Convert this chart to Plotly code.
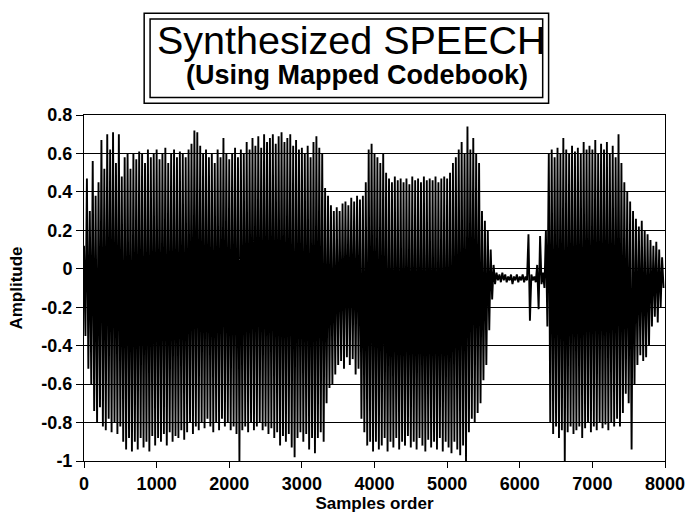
import numpy as np
import plotly.graph_objects as go

# Peak amplitudes, one value every 20 samples (alternating crest/trough)
amplitude = [
    0.12, -0.35, 0.47, -0.52, 0.30, -0.60, 0.56, -0.74, 0.38, -0.80,
    0.45, -0.72, 0.67, -0.82, 0.52, -0.84, 0.70, -0.78, 0.62, -0.85,
    0.71, -0.80, 0.55, -0.86, 0.70, -0.82, 0.48, -0.90, 0.58, -0.94,
    0.60, -0.88, 0.52, -0.95, 0.60, -0.90, 0.57, -0.94, 0.61, -0.88,
    0.60, -0.93, 0.55, -0.90, 0.62, -0.95, 0.58, -0.87, 0.60, -0.92,
    0.62, -0.88, 0.57, -0.90, 0.60, -0.86, 0.63, -0.92, 0.55, -0.85,
    0.60, -0.90, 0.62, -0.87, 0.58, -0.88, 0.61, -0.84, 0.60, -0.89,
    0.58, -0.85, 0.62, -0.80, 0.65, -0.86, 0.72, -0.82, 0.71, -0.84,
    0.64, -0.80, 0.60, -0.83, 0.62, -0.78, 0.58, -0.82, 0.60, -0.85,
    0.55, -0.80, 0.62, -0.84, 0.58, -0.78, 0.68, -0.82, 0.60, -0.80,
    0.57, -0.84, 0.60, -0.82, 0.63, -0.86, 0.58, -1.00, 0.62, -0.84,
    0.60, -0.82, 0.66, -0.85, 0.62, -0.80, 0.68, -0.84, 0.64, -0.82,
    0.69, -0.80, 0.63, -0.84, 0.70, -0.82, 0.66, -0.86, 0.68, -0.83,
    0.70, -0.88, 0.65, -0.85, 0.69, -0.92, 0.71, -0.87, 0.66, -0.90,
    0.68, -0.86, 0.70, -0.93, 0.64, -0.98, 0.67, -0.88, 0.62, -0.85,
    0.63, -0.90, 0.60, -0.86, 0.64, -0.94, 0.58, -0.88, 0.66, -0.96,
    0.69, -0.88, 0.63, -0.85, 0.60, -0.90, 0.42, -0.70, 0.38, -0.62,
    0.33, -0.60, 0.30, -0.55, 0.32, -0.50, 0.30, -0.48, 0.34, -0.52,
    0.35, -0.46, 0.33, -0.50, 0.37, -0.47, 0.35, -0.55, 0.38, -0.52,
    0.36, -0.78, 0.38, -0.85, 0.45, -0.92, 0.62, -0.90, 0.65, -0.95,
    0.60, -0.90, 0.58, -0.94, 0.55, -0.92, 0.60, -0.88, 0.50, -0.95,
    0.47, -0.90, 0.45, -0.93, 0.48, -0.88, 0.46, -0.94, 0.47, -0.90,
    0.45, -0.92, 0.47, -0.87, 0.44, -0.93, 0.48, -0.90, 0.46, -0.94,
    0.47, -0.88, 0.45, -0.92, 0.48, -0.95, 0.46, -0.89, 0.47, -0.93,
    0.46, -0.90, 0.48, -0.94, 0.45, -0.88, 0.47, -0.95, 0.48, -0.90,
    0.47, -0.93, 0.50, -0.96, 0.55, -0.90, 0.58, -0.94, 0.62, -0.97,
    0.66, -0.92, 0.60, -1.00, 0.74, -0.85, 0.62, -0.78, 0.68, -0.80,
    0.60, -0.75, 0.55, -0.70, 0.30, -0.58, 0.25, -0.50, 0.20, -0.32,
    0.10, -0.16, 0.02, -0.08, -0.02, -0.06, -0.03, -0.07, -0.02, -0.06,
    -0.03, -0.07, -0.04, -0.06, -0.03, -0.08, -0.04, -0.06, -0.03, -0.07,
    -0.04, -0.06, -0.03, -0.07, -0.04, -0.06, 0.18, -0.27, -0.03, -0.06,
    -0.04, -0.07, 0.02, -0.21, 0.17, -0.08, -0.02, -0.10, 0.20, -0.30,
    0.60, -0.80, 0.62, -0.86, 0.58, -0.82, 0.63, -0.88, 0.60, -0.84,
    0.68, -1.00, 0.62, -0.85, 0.60, -0.82, 0.64, -0.86, 0.61, -0.84,
    0.63, -0.82, 0.60, -0.88, 0.66, -0.83, 0.62, -0.80, 0.64, -0.85,
    0.62, -0.82, 0.67, -0.84, 0.60, -0.80, 0.65, -0.83, 0.62, -0.81,
    0.66, -0.84, 0.60, -0.80, 0.64, -0.82, 0.58, -0.78, 0.70, -0.82,
    0.55, -0.75, 0.45, -0.65, 0.40, -0.70, 0.35, -0.94, 0.30, -0.60,
    0.26, -0.50, 0.22, -0.45, 0.25, -0.48, 0.20, -0.46, 0.18, -0.40,
    0.15, -0.30, 0.12, -0.25, 0.14, -0.28, 0.10, -0.20, 0.06, -0.10,
]
sample_step = 20
samples = np.arange(len(amplitude)) * sample_step

x_ticks = [0, 1000, 2000, 3000, 4000, 5000, 6000, 7000, 8000]
y_ticks = [-1, -0.8, -0.6, -0.4, -0.2, 0, 0.2, 0.4, 0.6, 0.8]
y_tick_labels = ["-1", "-0.8", "-0.6", "-0.4", "-0.2", "0", "0.2", "0.4", "0.6", "0.8"]

title_main = "Synthesized SPEECH"
title_sub = "(Using Mapped Codebook)"
x_title = "Samples order"
y_title = "Amplitude"

W, H = 697, 521
ML, MR, MT, MB = 84, 24, 115, 49
PW, PH = W - ML - MR, H - MT - MB


def px(xp):
    return (xp - ML) / PW


def py(yp):
    return (H - MB - yp) / PH


fig = go.Figure()
fig.add_trace(go.Scatter(
    x=samples, y=amplitude, mode="lines",
    line=dict(color="black", width=1.9), hoverinfo="skip", showlegend=False,
))

font_family = "Liberation Sans, Arial, sans-serif"

fig.update_layout(
    width=W, height=H,
    margin=dict(l=ML, r=MR, t=MT, b=MB),
    paper_bgcolor="white", plot_bgcolor="white",
    font=dict(family=font_family, color="black"),
    xaxis=dict(
        range=[0, 8000], tickvals=x_ticks, ticktext=[str(v) for v in x_ticks],
        showgrid=False, zeroline=False,
        showline=True, linecolor="black", linewidth=1, mirror=True,
        ticks="outside", ticklen=6, tickcolor="black",
        tickfont=dict(size=18, family=font_family, weight="bold"),
        title=dict(text=x_title, font=dict(size=17, weight="bold"), standoff=4),
    ),
    yaxis=dict(
        range=[-1, 0.8], tickvals=y_ticks, ticktext=y_tick_labels,
        showgrid=True, gridcolor="black", gridwidth=1, zeroline=False,
        showline=True, linecolor="black", linewidth=1, mirror=True,
        ticks="outside", ticklen=7, tickcolor="black",
        tickfont=dict(size=18, family=font_family, weight="bold"),
        title=dict(text=y_title, font=dict(size=17, weight="bold"), standoff=14),
    ),
)

# double-bordered title box
fig.add_shape(type="rect", xref="paper", yref="paper",
              x0=px(145), x1=px(555), y0=py(103), y1=py(10),
              line=dict(color="black", width=1.5))
fig.add_shape(type="rect", xref="paper", yref="paper",
              x0=px(151), x1=px(549), y0=py(97), y1=py(16),
              line=dict(color="black", width=1.5))

fig.add_annotation(xref="paper", yref="paper", x=px(355), y=py(38),
                   text=title_main, showarrow=False, xanchor="center", yanchor="middle",
                   font=dict(size=39.5, family=font_family))
fig.add_annotation(xref="paper", yref="paper", x=px(361), y=py(74),
                   text=title_sub, showarrow=False, xanchor="center", yanchor="middle",
                   font=dict(size=27, family=font_family, weight="bold"))

fig.write_html("out.html")
